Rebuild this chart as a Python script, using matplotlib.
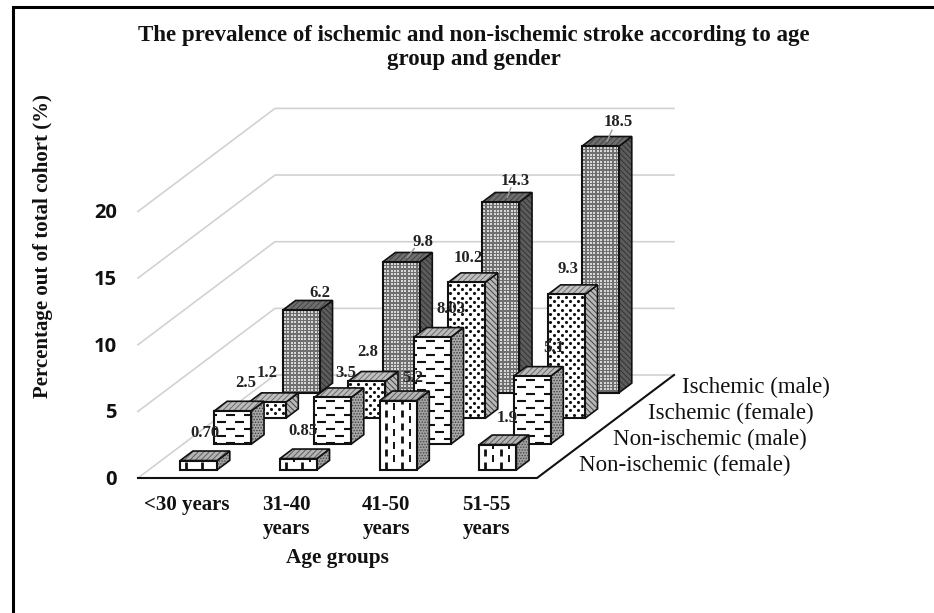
import numpy as np
import matplotlib
matplotlib.use('Agg')
import matplotlib.pyplot as plt
from matplotlib.patches import Polygon

plt.rcParams['font.family'] = ['Liberation Serif', 'DejaVu Serif']
plt.rcParams['hatch.linewidth'] = 0.7

age_groups = ['<30 years', '31-40\nyears', '41-50\nyears', '51-55\nyears']
series_names = ['Non-ischemic (female)', 'Non-ischemic (male)', 'Ischemic (female)', 'Ischemic (male)']
non_isch_female = [0.70, 0.85, 5.2, 1.9]
non_isch_male = [2.5, 3.5, 8.03, 5.1]
isch_female = [1.2, 2.8, 10.2, 9.3]
isch_male = [6.2, 9.8, 14.3, 18.5]
value_labels = [['0.70', '0.85', '5.2', '1.9'],
                ['2.5', '3.5', '8.03', '5.1'],
                ['1.2', '2.8', '10.2', '9.3'],
                ['6.2', '9.8', '14.3', '18.5']]
yticks = [0, 5, 10, 15, 20]

# where each value label sits relative to the top of its bar (px)
label_offset = [[(0, -24), (-2, -24), (8, -19), (3, -23)],
                [(6, -24), (7, -21), (12, -24), (15, -24)],
                [(-6, -26), (-6, -25), (-5, -21), (-5, -22)],
                [(12, -13), (15, -16), (8, -17), (11, -20)]]

all_series = [non_isch_female, non_isch_male, isch_female, isch_male]

# oblique projection of the 3d chart box
X0, Y0 = 138, 478
CAT_W = 99.75
DEP_X, DEP_Y = 34.25, 25.75
UNIT = 13.33
BAR = 0.37


def proj(c, d, v=0):
    return X0 + CAT_W * c + DEP_X * d, Y0 - DEP_Y * d - UNIT * v


fig = plt.figure(figsize=(9.34, 6.13), dpi=100)
ax = fig.add_axes([0, 0, 1, 1])
ax.set_xlim(0, 934)
ax.set_ylim(613, 0)
ax.axis('off')

# outer frame, only left and top are in the picture
ax.plot([12.5, 12.5, 934], [613, 7, 7], color='black', lw=2.2, solid_joinstyle='miter')

# walls
grid_c = '#d2d2d2'
for t in yticks:
    xs, ys = zip(proj(0, 0, t), proj(0, 4, t), proj(4, 4, t))
    ax.plot(xs, ys, color=grid_c, lw=1.2, zorder=1)
    x, y = proj(0, 0, t)
    ax.text(x - 21, y + 2, str(t), ha='right', va='center', fontsize=14.5, fontweight='bold',
            family='Open Sans', color='#111111')

# floor
xs, ys = zip(proj(0, 0), proj(4, 0), proj(4, 4))
ax.plot(xs, ys, color='#111111', lw=1.5, zorder=2)


def dots(face, px, py, size, color, marker='o', stagger=True):
    # little marks filling a front face, clipped to it
    xmin, ymin = face.min(axis=0)
    xmax, ymax = face.max(axis=0)
    poly = Polygon(face, transform=ax.transData)
    gx, gy = [], []
    for r, y in enumerate(np.arange(ymin + py * 0.6, ymax + py, py)):
        shift = px / 2 if (stagger and r % 2) else 0
        for x in np.arange(xmin + 2 + shift, xmax, px):
            gx.append(x)
            gy.append(y)
    sc = ax.scatter(gx, gy, s=size, c=color, marker=marker, linewidths=0, zorder=zo)
    sc.set_clip_path(poly)


def dashes(face, px, py, length, vertical):
    xmin, ymin = face.min(axis=0)
    xmax, ymax = face.max(axis=0)
    poly = Polygon(face, transform=ax.transData)
    if vertical:
        for k, x in enumerate(np.arange(xmin + 6, xmax - 3, px)):
            for y in np.arange(ymax - 8 - (k % 2) * py / 2, ymin - py, -py):
                ln, = ax.plot([x, x], [y, y + length], color='#111111', lw=1.4 if k % 2 else 2.0,
                              solid_capstyle='butt', zorder=zo)
                ln.set_clip_path(poly)
    else:
        for k, y in enumerate(np.arange(ymin + 4, ymax, py)):
            for x in np.arange(xmin + 3 + (k % 2) * px / 2 - px / 2, xmax, px):
                ln, = ax.plot([x, x + length], [y, y], color='#111111', lw=1.5,
                              solid_capstyle='butt', zorder=zo)
                ln.set_clip_path(poly)


top_style = [('#b4b4b4', '#5e5e5e', '//////'), ('#bcbcbc', '#6a6a6a', '//////'),
             ('#c0c0c0', '#707070', '//////'), ('#6e6e6e', '#444444', '//////')]
side_style = [('#a0a0a0', '#4a4a4a', '......'), ('#a8a8a8', '#3c3c3c', '......'),
              ('#b8b8b8', '#444444', '\\\\\\\\\\\\'), ('#5c5c5c', '#333333', '\\\\\\\\\\\\')]
front_col = ['white', 'white', 'white', '#6f6f6f']

zo = 3
for j in range(3, -1, -1):
    values = all_series[j]
    for i, v in enumerate(values):
        c0, c1 = i + 0.5 - BAR / 2, i + 0.5 + BAR / 2
        d0, d1 = j + 0.5 - BAR / 2, j + 0.5 + BAR / 2
        front = np.array([proj(c0, d0, 0), proj(c1, d0, 0), proj(c1, d0, v), proj(c0, d0, v)])
        side = np.array([proj(c1, d0, 0), proj(c1, d1, 0), proj(c1, d1, v), proj(c1, d0, v)])
        top = np.array([proj(c0, d0, v), proj(c1, d0, v), proj(c1, d1, v), proj(c0, d1, v)])

        for face, (fc, hc, h) in ((side, side_style[j]), (top, top_style[j])):
            ax.add_patch(Polygon(face, facecolor=fc, edgecolor=hc, hatch=h, lw=0, zorder=zo))
            zo += 1
            ax.add_patch(Polygon(face, fill=False, edgecolor='#111111', lw=1.2, zorder=zo))
            zo += 1

        ax.add_patch(Polygon(front, facecolor=front_col[j], edgecolor='none', zorder=zo))
        zo += 1
        if j == 0:
            dashes(front, 8, 13, 7, True)
        elif j == 1:
            dashes(front, 18, 7, 9, False)
        elif j == 2:
            dots(front, 8, 4.2, 5, '#111111')
        else:
            dots(front, 3.4, 3.4, 3.2, '#d8d8d8', marker='s', stagger=False)
        zo += 1
        ax.add_patch(Polygon(front, fill=False, edgecolor='#111111', lw=1.5, zorder=zo))
        zo += 1

# value labels on top of everything
for j in range(4):
    for i, v in enumerate(all_series[j]):
        x, y = proj(i + 0.5, j + 0.5, v)
        dx, dy = label_offset[j][i]
        if (j == 3 and i > 0):
            ax.plot([x, x + dx * 0.45], [y, y + dy * 0.55], color='#9a9a9a', lw=1, zorder=zo)
        ax.text(x + dx, y + dy + 1, value_labels[j][i], ha='center', va='center', fontsize=12,
                fontweight='bold', color='#222222', zorder=zo + 1)

# category labels
for i, name in enumerate(age_groups):
    x, y = proj(i + 0.5, 0)
    ax.text(x - 1, y + 17, name, ha='center', va='top', fontsize=15, fontweight='bold',
            linespacing=1.25, color='#111111')

# depth axis labels
for j, name in enumerate(series_names):
    x, y = proj(4, j + 0.5)
    ax.text(x + 25, y, name, ha='left', va='center', fontsize=16.5, color='#111111')

ax.text(474, 47.5, 'The prevalence of ischemic and non-ischemic stroke according to age\ngroup and gender',
        ha='center', va='center', fontsize=16.5, fontweight='bold', linespacing=1.25, color='#111111')
ax.text(43, 246, 'Percentage out of total cohort (%)', rotation=90, ha='center', va='center',
        fontsize=15, fontweight='bold', color='#111111')
ax.text(337, 558, 'Age groups', ha='center', va='center', fontsize=15.3, fontweight='bold', color='#111111')

fig.savefig('out.png', dpi=100)
